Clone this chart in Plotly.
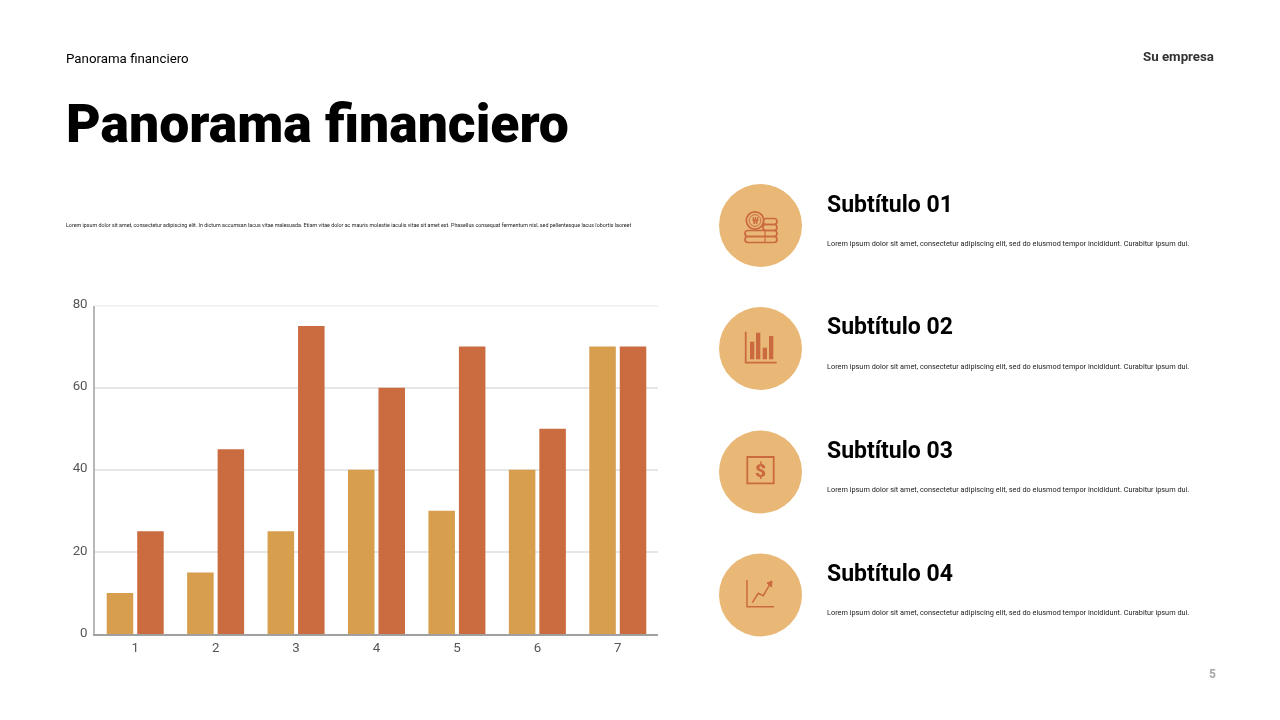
import plotly.graph_objects as go

W, H = 1280, 720

categories = ["1", "2", "3", "4", "5", "6", "7"]
serie_a = [10, 15, 25, 40, 30, 40, 70]
serie_b = [25, 45, 75, 60, 70, 50, 70]
y_ticks = [0, 20, 40, 60, 80]

titulo = "Panorama financiero"
empresa = "Su empresa"
pagina = "5"
intro = ("Lorem ipsum dolor sit amet, consectetur adipiscing elit. In dictum accumsan lacus vitae malesuada. "
         "Etiam vitae dolor ac mauris molestie iaculis vitae sit amet est. Phasellus consequat fermentum nisl, "
         "sed pellentesque lacus lobortis laoreet")
subtitulos = ["Subtítulo 01", "Subtítulo 02", "Subtítulo 03", "Subtítulo 04"]
cuerpo = "Lorem ipsum dolor sit amet, consectetur adipiscing elit, sed do eiusmod tempor incididunt. Curabitur ipsum dui."

AMBER = "#D69E4D"
RUST = "#CB6B40"
CIRCLE = "#E9B877"
ICON = "#CB6A3F"
FONT = "Roboto"


# pixel -> paper helpers, margins are zero so paper is the whole page
def fx(x):
    return x / W


def fy(y):
    return 1 - y / H


def txt(x, y, s, size, color="#000000", weight=400, anchor="left"):
    fig.add_annotation(xref="paper", yref="paper", x=fx(x), y=fy(y), text=s,
                       showarrow=False, xanchor=anchor, yanchor="middle", align=anchor,
                       borderpad=0, borderwidth=0,
                       font=dict(family=FONT, size=size, color=color, weight=weight))


def ellipse(cx, cy, r, fill=None, line=None, lw=1.5):
    fig.add_shape(type="circle", xref="paper", yref="paper", x0=fx(cx - r), x1=fx(cx + r), y0=fy(cy + r), y1=fy(cy - r),
                  fillcolor=fill or "rgba(0,0,0,0)", line=dict(color=line or "rgba(0,0,0,0)", width=lw))


def rect(x0, y0, x1, y1, fill=None, line=None, lw=1.5):
    fig.add_shape(type="rect", xref="paper", yref="paper", x0=fx(x0), x1=fx(x1), y0=fy(y1), y1=fy(y0),
                  fillcolor=fill or "rgba(0,0,0,0)", line=dict(color=line or "rgba(0,0,0,0)", width=lw))


def poly(pts, fill=None, lw=1.5, close=False):
    d = "M " + " L ".join(f"{fx(x):.5f},{fy(y):.5f}" for x, y in pts) + (" Z" if close else "")
    fig.add_shape(type="path", xref="paper", yref="paper", path=d, fillcolor=fill or "rgba(0,0,0,0)",
                  line=dict(color=ICON, width=lw))


def pill(x0, y0, x1, y1, lw=1.7):
    r = (y1 - y0) / 2
    d = (f"M {fx(x0 + r):.5f},{fy(y0):.5f} L {fx(x1 - r):.5f},{fy(y0):.5f} "
         f"Q {fx(x1):.5f},{fy(y0):.5f} {fx(x1):.5f},{fy(y0 + r):.5f} "
         f"Q {fx(x1):.5f},{fy(y1):.5f} {fx(x1 - r):.5f},{fy(y1):.5f} "
         f"L {fx(x0 + r):.5f},{fy(y1):.5f} "
         f"Q {fx(x0):.5f},{fy(y1):.5f} {fx(x0):.5f},{fy(y0 + r):.5f} "
         f"Q {fx(x0):.5f},{fy(y0):.5f} {fx(x0 + r):.5f},{fy(y0):.5f} Z")
    fig.add_shape(type="path", xref="paper", yref="paper", path=d, fillcolor="rgba(0,0,0,0)",
                  line=dict(color=ICON, width=lw))


fig = go.Figure()
fig.add_trace(go.Bar(x=categories, y=serie_a, marker=dict(color=AMBER, line_width=0), showlegend=False))
fig.add_trace(go.Bar(x=categories, y=serie_b, marker=dict(color=RUST, line_width=0), showlegend=False))

fig.update_layout(
    width=W, height=H, margin=dict(l=0, r=0, t=0, b=0, pad=0),
    paper_bgcolor="white", plot_bgcolor="white",
    barmode="group", bargap=0.242, bargroupgap=0.13,
    font=dict(family=FONT, size=13, color="#555555"),
    xaxis=dict(domain=[fx(95), fx(658)], type="category", automargin=False, showgrid=False, ticks="", showline=True,
               linecolor="#A0A0A0", linewidth=1.5, tickfont=dict(size=13.3, color="#555555")),
    yaxis=dict(domain=[fy(634), fy(305.5)], range=[0, 80], automargin=False, tickvals=y_ticks, showgrid=True,
               gridcolor="#E6E6E6", gridwidth=1.5, zeroline=False, showline=True, linecolor="#B8B8B8", linewidth=1.5,
               ticks="", ticklabelstandoff=3, ticklabelshift=-2, tickfont=dict(size=13.3, color="#555555")),
)

# plotly drops the gridline at the range end, the reference keeps it
fig.add_shape(type="line", xref="x domain", yref="y", x0=0, x1=1, y0=y_ticks[-1], y1=y_ticks[-1],
              line=dict(color="#E0E0E0", width=1.5))

# cabecera
txt(66, 58.5, titulo, 13.3)
txt(1214, 56.5, empresa, 13.3, "#333333", 700, "right")
txt(66, 123, titulo, 53.5, "#000000", 900)
txt(66, 224.5, intro, 5.34, "#222222")
txt(1216, 674, pagina, 12, "#A6A6A6", 700, "right")

# filas de la derecha
filas_y = [225.5, 348.5, 472, 595]
for fila, sub in zip(filas_y, subtitulos):
    ellipse(760.5, fila, 41.5, fill=CIRCLE)
    txt(827, fila - 21.5, sub, 23, "#000000", 700)
    txt(827, fila + 17.5, cuerpo, 7.34, "#222222")

# icono monedas
for y0 in [218.5, 224.5]:
    pill(763, y0, 777, y0 + 6)
for y0 in [230.5, 236.5]:
    pill(745, y0, 777, y0 + 6)
poly([(765, 230.5), (765, 242.5)], lw=1.2)
ellipse(755, 220.5, 8.7, fill=CIRCLE, line=ICON, lw=1.8)
ellipse(755, 220.5, 5.8, line=ICON, lw=1)
txt(755, 220.5, "₩", 8.5, ICON, 700, "center")

# icono barras
poly([(745.7, 331.7), (745.7, 362.7), (776.7, 362.7)], lw=1.8)
for x0, top in [(750, 341.7), (756, 332.7), (762.7, 347.7), (769, 336)]:
    rect(x0, top, x0 + 4.3, 359.3, fill=ICON)

# icono dolar
rect(747.3, 457, 773.7, 483.3, line=ICON, lw=1.8)
txt(760.5, 470.5, "$", 19, ICON, 900, "center")

# icono crecimiento
poly([(747, 580), (747, 606.7), (774, 606.7)])
poly([(752.3, 602.7), (758.3, 593.3), (763.3, 595.7), (770, 584)])
poly([(767, 583), (772, 581), (771.5, 587)], fill=ICON, lw=1, close=True)

# default 8px body margin off; composited svg layers give grey text antialiasing like the reference
post = ("document.body.style.margin='0';"
        "document.querySelectorAll('.main-svg').forEach(s => s.style.willChange='transform');")
fig.write_html("out.html", config={"displayModeBar": False}, post_script=post)
